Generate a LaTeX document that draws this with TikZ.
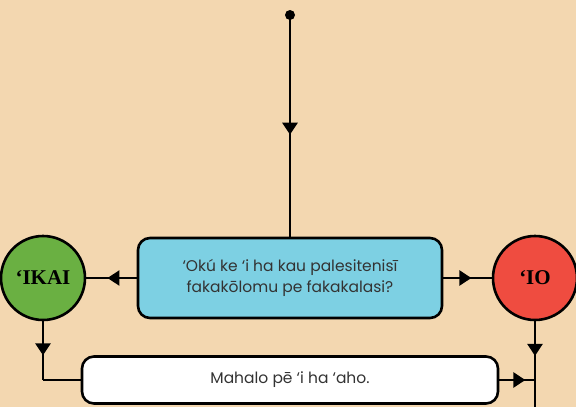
\documentclass[tikz,border=0pt]{standalone}
\usepackage{fontspec}
\setmainfont{Poppins}
\newfontfamily\answerfont{Liberation Serif}
\usetikzlibrary{arrows.meta}
\usetikzlibrary{decorations.markings}
\usetikzlibrary{positioning}

\definecolor{paper}{RGB}{243,215,176}
\definecolor{questionblue}{RGB}{125,208,227}
\definecolor{ikaigreen}{RGB}{106,176,66}
\definecolor{iored}{RGB}{239,76,64}
\definecolor{textgray}{RGB}{51,51,51}

\begin{document}
\begin{tikzpicture}
	[x=1pt,y=-1pt,line width=2.6pt,line join=round,
	%Styles
	box/.style={draw,rounded corners=12pt,text=textgray,font=\fontsize{15.5}{21}\selectfont,align=center},
	answer/.style={draw,circle,minimum size=84pt,inner sep=0pt,font=\answerfont\bfseries\fontsize{21}{21}\selectfont},
	flow/.style={postaction={decorate},decoration={markings,
		mark=at position #1 with {\arrow{Triangle[width=15pt,length=12pt]}}}},
	flow/.default=0.5
	]
	
	%Background
	\useasboundingbox[fill=paper] (0,0) rectangle (576,407);
	
	%The graphic
	\coordinate (start) at (290,15);
	\node [box,fill=questionblue,minimum width=304pt,minimum height=80pt] (question) at (290,278)
		{‘Okú ke ‘i ha kau palesitenisī\\fakakōlomu pe fakakalasi?};
	\node [answer,fill=ikaigreen] (ikai) at (43,278) {‘IKAI};
	\node [answer,fill=iored] (io) at (535,278) {‘IO};
	\node [box,fill=white,minimum width=416pt,minimum height=47pt] (thanks) at (290,380)
		{Mahalo pē ‘i ha ‘aho.};
	\coordinate (ikaicorner) at (ikai.south |- thanks.west);
	\coordinate (iojoin) at (io.south |- thanks.east);
	\coordinate (ioend) at (535,410);
	
	\fill (start) circle (5pt);
	\draw[flow=0.54] (start) -- (question.north);
	\draw[flow=0.58] (question.west) -- (ikai.east);
	\draw[flow=0.58] (question.east) -- (io.west);
	\draw[flow=0.58] (ikai.south) -- (ikaicorner);
	\draw (ikaicorner) -- (thanks.west);
	\draw[flow=0.39] (io.south) -- (ioend);
	\draw[flow=0.73] (thanks.east) -- (iojoin);
\end{tikzpicture}
\end{document}
